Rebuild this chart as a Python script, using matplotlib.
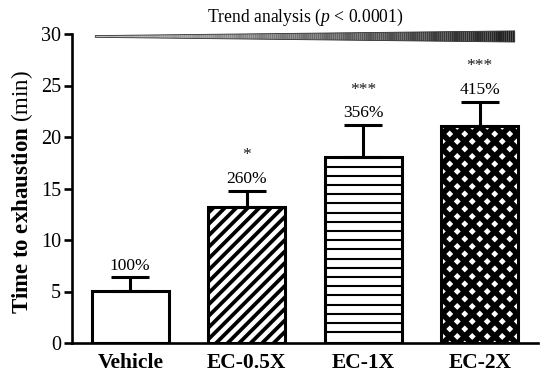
import matplotlib
import numpy as np

matplotlib.use("Agg")
import matplotlib.pyplot as plt
from matplotlib.collections import LineCollection, PolyCollection

plt.rcParams["font.family"] = ["Liberation Serif", "DejaVu Serif"]
plt.rcParams["mathtext.fontset"] = "custom"
plt.rcParams["mathtext.rm"] = "Liberation Serif"
plt.rcParams["mathtext.it"] = "Liberation Serif:italic"
plt.rcParams["mathtext.bf"] = "Liberation Serif:bold"

groups = ["Vehicle", "EC-0.5X", "EC-1X", "EC-2X"]
means = [5.08, 13.17, 18.02, 21.07]
sem = [1.30, 1.62, 3.15, 2.36]
percent = ["100%", "260%", "356%", "415%"]
stars = ["", "*", "***", "***"]
hatches = [None, "/", "-", "x"]

fig = plt.figure(figsize=(5.5, 3.78), dpi=100)
ax = fig.add_axes([72 / 550, 35 / 378, 466 / 550, 309 / 378])
x = np.arange(len(groups))
ax.set_xlim(-0.5, 3.5)
ax.set_ylim(0, 30)

bars = ax.bar(x, means, width=0.66, color="white", edgecolor="none", zorder=2)
ax.bar(x, means, width=0.66, fill=False, edgecolor="black", linewidth=2.2, zorder=4)
ax.errorbar(x, means, yerr=[np.zeros(len(sem)), sem], fmt="none", ecolor="black",
            elinewidth=2.2, capsize=13.7, capthick=2.2, zorder=3)


def hatch(bar, kind, step, lw):
    # lines are laid out in pixels, then mapped back to data
    (x0, y0), (x1, y1) = ax.transData.transform(
        [[bar.get_x(), bar.get_y()], [bar.get_x() + bar.get_width(), bar.get_y() + bar.get_height()]])
    segs = []
    if kind == "-":
        for y in np.arange(y1 - step, y0 + step / 2, -step):
            segs.append([(x0, y), (x1, y)])
    if kind in ("/", "x"):
        for c in np.arange(y0 - x1, y1 - x0 + step, step):
            segs.append([(x0, x0 + c), (x1, x1 + c)])
    if kind == "x":
        for c in np.arange(x0 + y0, x1 + y1 + step, step):
            segs.append([(x0, c - x0), (x1, c - x1)])
    inv = ax.transData.inverted()
    segs = [inv.transform(s) for s in segs]
    lc = LineCollection(segs, colors="black", linewidths=lw, zorder=3)
    ax.add_collection(lc)
    lc.set_clip_path(bar)


styles = {"/": (11.5, 2.7), "-": (9.2, 1.5), "x": (15.0, 4.1)}
for bar, h in zip(bars, hatches):
    if h:
        hatch(bar, h, *styles[h])

for xi, m, s, pc, st in zip(x, means, sem, percent, stars):
    ax.annotate(pc, (xi, m + s), xytext=(0, 5.5), textcoords="offset points",
                ha="center", va="baseline", fontsize=12.5)
    if st:
        ax.annotate(st, (xi, m + s), xytext=(0, 22.5), textcoords="offset points",
                    ha="center", va="baseline", fontsize=12.5, color="#1a1a1a")

# trend wedge above the bars
n = 200
xs = np.linspace(0.05, 0.95, n + 1)
half = 0.0028 + (xs - 0.05) / 0.9 * (0.018 - 0.0028)
yc = 0.992
polys = [[(xs[i], yc - half[i]), (xs[i + 1], yc - half[i + 1]),
          (xs[i + 1], yc + half[i + 1]), (xs[i], yc + half[i])] for i in range(n)]
grays = np.linspace(0.75, 0.12, n)
pc_ = PolyCollection(polys, facecolors=[(g, g, g) for g in grays], edgecolors="none",
                     transform=ax.transAxes, clip_on=False, zorder=5)
ax.add_collection(pc_)
outline = [(xs[0], yc - half[0]), (xs[-1], yc - half[-1]), (xs[-1], yc + half[-1]), (xs[0], yc + half[0])]
ax.add_patch(plt.Polygon(outline, closed=True, fill=False, edgecolor="#303030", linewidth=0.6,
                         transform=ax.transAxes, clip_on=False, zorder=6))
ax.text(0.5, 1.052, "Trend analysis ($p$ < 0.0001)", transform=ax.transAxes,
        ha="center", va="center", fontsize=12.7)

ax.text(-0.107, 0.49, r"$\mathbf{Time\ to\ exhaustion}$ (min)", transform=ax.transAxes,
        rotation=90, ha="center", va="center", fontsize=16.5)

for side in ("top", "right"):
    ax.spines[side].set_visible(False)
for side in ("left", "bottom"):
    ax.spines[side].set_linewidth(1.9)
ax.set_yticks(range(0, 31, 5))
ax.tick_params(axis="y", direction="out", length=6, width=1.9, labelsize=14.5, pad=2)
ax.set_xticks(x)
ax.set_xticklabels(groups, fontweight="bold", fontsize=15.5)
ax.tick_params(axis="x", length=0, pad=7)

fig.savefig("out.png", dpi=100)
